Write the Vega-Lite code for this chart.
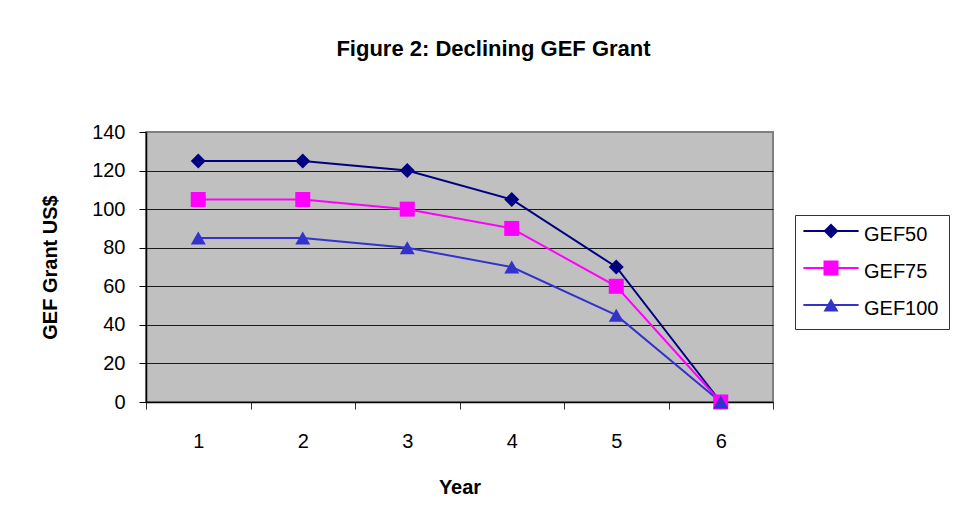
{
  "$schema": "https://vega.github.io/schema/vega-lite/v6.json",
  "width": 627,
  "height": 270,
  "autosize": {"type": "none"},
  "padding": {"left": 146, "top": 132, "right": 194, "bottom": 117},
  "background": "white",
  "title": {
    "text": "Figure 2: Declining GEF Grant",
    "anchor": "middle",
    "frame": "group",
    "dx": 34,
    "offset": 61,
    "fontSize": 22,
    "font": "Liberation Sans",
    "fontWeight": "bold",
    "color": "black"
  },
  "data": {
    "values": [
      {"year": "1", "series": "GEF50", "grant": 125},
      {"year": "2", "series": "GEF50", "grant": 125},
      {"year": "3", "series": "GEF50", "grant": 120},
      {"year": "4", "series": "GEF50", "grant": 105},
      {"year": "5", "series": "GEF50", "grant": 70},
      {"year": "6", "series": "GEF50", "grant": 0},
      {"year": "1", "series": "GEF75", "grant": 105},
      {"year": "2", "series": "GEF75", "grant": 105},
      {"year": "3", "series": "GEF75", "grant": 100},
      {"year": "4", "series": "GEF75", "grant": 90},
      {"year": "5", "series": "GEF75", "grant": 60},
      {"year": "6", "series": "GEF75", "grant": 0},
      {"year": "1", "series": "GEF100", "grant": 85},
      {"year": "2", "series": "GEF100", "grant": 85},
      {"year": "3", "series": "GEF100", "grant": 80},
      {"year": "4", "series": "GEF100", "grant": 70},
      {"year": "5", "series": "GEF100", "grant": 45},
      {"year": "6", "series": "GEF100", "grant": 0}
    ]
  },
  "encoding": {
    "x": {
      "field": "year",
      "type": "ordinal",
      "scale": {"type": "band", "paddingInner": 0, "paddingOuter": 0},
      "bandPosition": 0.5,
      "axis": {
        "title": "Year",
        "titleFontSize": 20,
        "titleFontWeight": "bold",
        "titleColor": "black",
        "titlePadding": 26,
        "labelFontSize": 20,
        "labelColor": "black",
        "labelAngle": 0,
        "labelPadding": 22,
        "tickBand": "extent",
        "tickSize": 7,
        "tickColor": "#333333",
        "domainColor": "#000000",
        "domainWidth": 1.5,
        "grid": false
      }
    },
    "y": {
      "field": "grant",
      "type": "quantitative",
      "scale": {"domain": [0, 140], "nice": false, "zero": true},
      "axis": {
        "title": "GEF Grant US$",
        "values": [0, 20, 40, 60, 80, 100, 120, 140],
        "grid": true,
        "gridColor": {"condition": {"test": "datum.value >= 140 || datum.value <= 0", "value": "#808080"}, "value": "#1a1a1a"},
        "gridWidth": 1,
        "tickSize": 7,
        "tickColor": "#000000",
        "labelPadding": 14,
        "labelFontSize": 20,
        "labelColor": "black",
        "titleFontSize": 20,
        "titleFontWeight": "bold",
        "titleColor": "black",
        "titlePadding": 31,
        "domainColor": "#000000",
        "domainWidth": 1.5
      }
    }
  },
  "layer": [
    {
      "mark": {"type": "line", "strokeWidth": 2},
      "encoding": {
        "stroke": {
          "field": "series",
          "type": "nominal",
          "sort": ["GEF50", "GEF75", "GEF100"],
          "scale": {"range": ["#000080", "#FF00FF", "#3333CC"]},
          "legend": {
            "orient": "none",
            "legendX": 649,
            "legendY": 83,
            "zindex": 1,
            "title": null,
            "strokeColor": "#333333",
            "fillColor": "white",
            "padding": 10,
            "labelFontSize": 20,
            "labelFont": "Liberation Sans",
            "labelColor": "black",
            "symbolType": "M-6.9,-1H6.9",
            "symbolSize": 64,
            "symbolStrokeWidth": 2,
            "symbolOffset": 16,
            "labelOffset": 23,
            "rowPadding": 17
          }
        }
      }
    },
    {
      "mark": {"type": "point", "filled": true, "size": 225, "opacity": 1},
      "encoding": {
        "fill": {
          "field": "series",
          "type": "nominal",
          "scale": {"domain": ["GEF50", "GEF75", "GEF100"], "range": ["#000080", "#FF00FF", "#3333CC"]},
          "legend": {
            "orient": "none",
            "legendX": 649,
            "legendY": 79,
            "zindex": 2,
            "title": null,
            "padding": 10,
            "labelFontSize": 20,
            "labelFont": "Liberation Sans",
            "labelExpr": "''",
            "labelOpacity": 0,
            "symbolSize": 225,
            "symbolStrokeWidth": 0,
            "symbolOpacity": 1,
            "symbolOffset": 16,
            "labelOffset": 23,
            "rowPadding": 17
          }
        },
        "shape": {
          "field": "series",
          "type": "nominal",
          "scale": {"domain": ["GEF50", "GEF75", "GEF100"], "range": ["diamond", "square", "triangle-up"]}
        }
      }
    }
  ],
  "config": {
    "view": {"fill": "#C0C0C0", "stroke": "#808080", "strokeWidth": 2},
    "font": "Liberation Sans"
  }
}
